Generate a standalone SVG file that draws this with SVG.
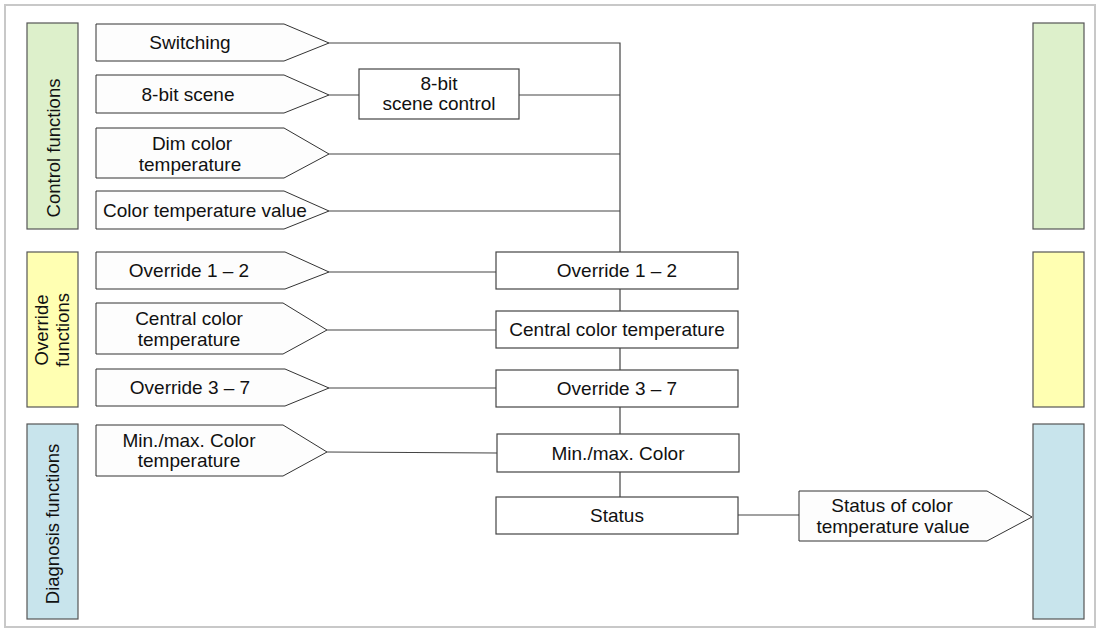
<svg xmlns="http://www.w3.org/2000/svg" width="1104" height="632" viewBox="0 0 1104 632">
<style>
text{font-family:"Liberation Sans",Arial,sans-serif;font-size:19px;fill:#111;text-anchor:middle}
.rot{font-size:18.5px}
.in{fill:#fdfdfd;stroke:#333;stroke-width:1}
.box{fill:#fff;stroke:#444;stroke-width:1.2}
.lbl{stroke:#555;stroke-width:1.2}
.g{fill:#ddf0cb}.y{fill:#ffffb2}.b{fill:#c8e4ec}
#connectors path{fill:none;stroke:#444;stroke-width:1.2}
</style>
<rect x="5" y="5" width="1090" height="622" fill="#fff" stroke="#c8c8c8" stroke-width="2"/>
<g id="lbl-control"><rect class="lbl g" x="27" y="23" width="51" height="206"/><text class="rot" transform="translate(60,148) rotate(-90)">Control functions</text></g>
<g id="lbl-override"><rect class="lbl y" x="27" y="252" width="51" height="155"/><text class="rot" transform="translate(48,330) rotate(-90)">Override</text><text class="rot" transform="translate(69,330) rotate(-90)">functions</text></g>
<g id="lbl-diag"><rect class="lbl b" x="27" y="424" width="51" height="195"/><text class="rot" transform="translate(59,524) rotate(-90)">Diagnosis functions</text></g>
<g id="right-green"><rect class="lbl g" x="1033" y="23" width="51" height="206"/></g>
<g id="right-yellow"><rect class="lbl y" x="1033" y="252" width="51" height="155"/></g>
<g id="right-blue"><rect class="lbl b" x="1033" y="424" width="51" height="195"/></g>
<g id="connectors">
<path d="M329,43H620V252"/>
<path d="M329,95H359M519,95H620"/>
<path d="M329,154H620M329,211H620"/>
<path d="M329,272H496M327,330H496M329,388H496M327,452L497,453"/>
<path d="M620,289V311M620,348V370M620,407V434M620,472V497"/>
<path d="M738,515H799"/>
</g>
<g id="in-switching"><path class="in" d="M96,24H284L329,43L284,61H96Z"/><text x="190" y="49">Switching</text></g>
<g id="in-scene"><path class="in" d="M96,75H284L329,95L284,113H96Z"/><text x="188" y="101">8-bit scene</text></g>
<g id="in-dim"><path class="in" d="M96,128H284L329,154L284,178H96Z"/><text x="192" y="150">Dim color</text><text x="190" y="171">temperature</text></g>
<g id="in-ctv"><path class="in" d="M96,191H284L329,211L284,229H96Z"/><text x="205" y="217">Color temperature value</text></g>
<g id="in-ov12"><path class="in" d="M96,252H285L329,272L285,289H96Z"/><text x="189" y="277">Override 1 – 2</text></g>
<g id="in-central"><path class="in" d="M96,303H283L327,330L283,354H96Z"/><text x="189" y="325">Central color</text><text x="189" y="346">temperature</text></g>
<g id="in-ov37"><path class="in" d="M96,369H285L329,388L285,406H96Z"/><text x="190" y="394">Override 3 – 7</text></g>
<g id="in-minmax"><path class="in" d="M96,425H283L327,452L283,476H96Z"/><text x="189" y="447">Min./max. Color</text><text x="189" y="467">temperature</text></g>
<g id="box-scene"><rect class="box" x="359" y="69" width="160" height="50"/><text x="439" y="90">8-bit</text><text x="439" y="110">scene control</text></g>
<g id="box-ov12"><rect class="box" x="496" y="252" width="242" height="37"/><text x="617" y="277">Override 1 – 2</text></g>
<g id="box-central"><rect class="box" x="496" y="311" width="242" height="37"/><text x="617" y="336">Central color temperature</text></g>
<g id="box-ov37"><rect class="box" x="496" y="370" width="242" height="37"/><text x="617" y="395">Override 3 – 7</text></g>
<g id="box-minmax"><rect class="box" x="497" y="434" width="242" height="38"/><text x="618" y="460">Min./max. Color</text></g>
<g id="box-status"><rect class="box" x="496" y="497" width="242" height="37"/><text x="617" y="522">Status</text></g>
<g id="out-status"><path class="in" d="M799,491H987L1032,517L987,541H799Z"/><text x="892" y="512">Status of color</text><text x="893" y="533">temperature value</text></g>
</svg>
